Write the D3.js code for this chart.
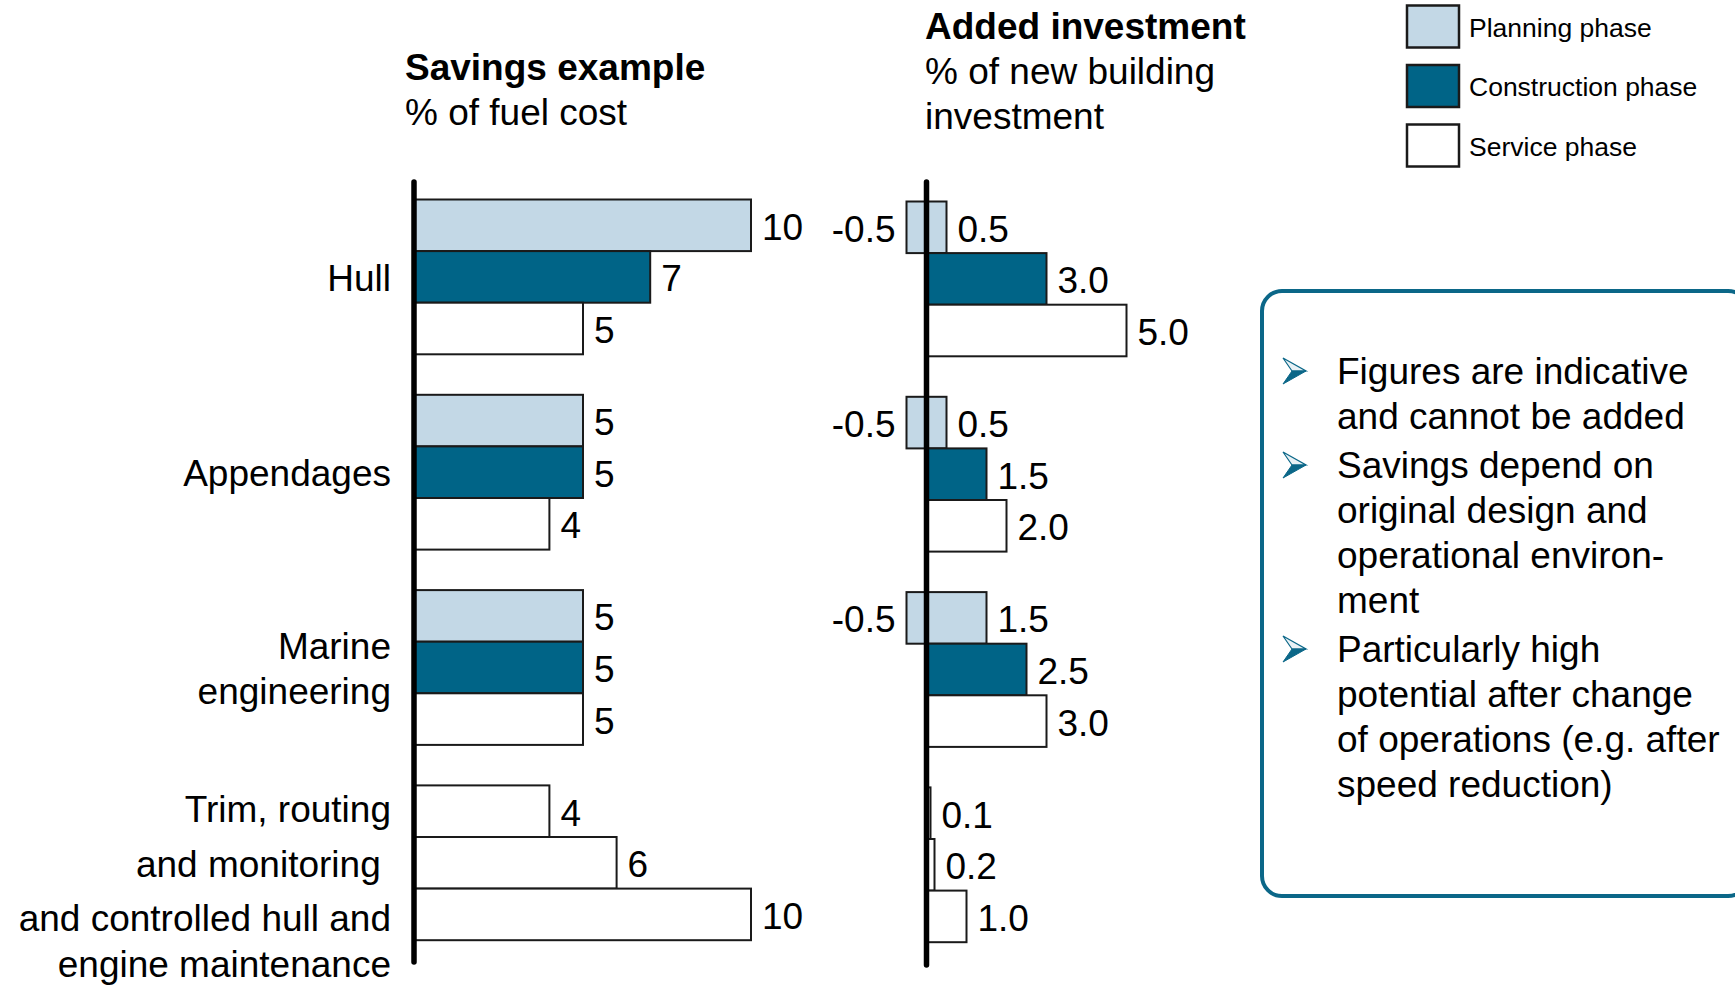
<!DOCTYPE html>
<html>
<head>
<meta charset="utf-8">
<script src="https://cdn.jsdelivr.net/npm/d3@7"></script>
<style>
  html, body { margin: 0; padding: 0; background: #fff; }
  svg { display: block; font-family: "Liberation Sans", Arial, sans-serif; }
  text { white-space: pre; }
</style>
</head>
<body>
<svg id="chart" width="1735" height="985"></svg>
<script>
// ---------------- data ----------------
const groups = ["Hull", "Appendages", "Marine engineering", "Trim"];
const groupLabels = [["Hull"], ["Appendages"], ["Marine", "engineering"],
  ["Trim, routing", "and monitoring ", "and controlled hull and", "engine maintenance"]];
const phases = ["Planning phase", "Construction phase", "Service phase"];

// Savings example, % of fuel cost (first three groups)
const savingsPlanning = [10, 5, 5];
const savingsConstruction = [7, 5, 5];
const savingsService = [5, 4, 5];
// Trim, routing and monitoring / controlled maintenance (service phase, 3 items)
const savingsTrim = [4, 6, 10];

// Added investment, % of new building investment
const investPlanningLow = [-0.5, -0.5, -0.5];
const investPlanningHigh = [0.5, 0.5, 1.5];
const investConstruction = [3.0, 1.5, 2.5];
const investService = [5.0, 2.0, 3.0];
const investTrim = [0.1, 0.2, 1.0];

const notes = [
  ["Figures are indicative", "and cannot be added"],
  ["Savings depend on", "original design and", "operational environ-", "ment"],
  ["Particularly high", "potential after change", "of operations (e.g. after", "speed reduction)"]
];

// ---------------- styles ----------------
const colors = ["#c3d8e6", "#006487", "#ffffff"];
const barStroke = "#1a1a1a";
const teal = "#0b6788";
const FS = 37;
const loc = d3.formatLocale({decimal: ".", thousands: ",", grouping: [3], currency: ["", ""], minus: "-"});

const svg = d3.select("#chart");

function rows(low, high, cons, serv, trim) {
  const r = [];
  for (let g = 0; g < 3; g++) {
    r.push({g: groups[g], i: 0, phase: 0, lo: low ? low[g] : 0, hi: high[g]});
    r.push({g: groups[g], i: 1, phase: 1, lo: 0, hi: cons[g]});
    r.push({g: groups[g], i: 2, phase: 2, lo: 0, hi: serv[g]});
  }
  trim.forEach((v, k) => r.push({g: groups[3], i: k, phase: 2, lo: 0, hi: v}));
  return r;
}
const leftRows = rows(null, savingsPlanning, savingsConstruction, savingsService, savingsTrim);
const rightRows = rows(investPlanningLow, investPlanningHigh, investConstruction, investService, investTrim);

const step = 195.3, groupBand = 154.8;
function makeY(top) {
  const outer = d3.scaleBand().domain(groups)
    .range([top, top + 3 * step + groupBand])
    .paddingInner((step - groupBand) / step).paddingOuter(0);
  const inner = d3.scaleBand().domain([0, 1, 2]).range([0, outer.bandwidth()]);
  return {outer, inner};
}

function panel(rowsData, x, yTop, axisX, axisY1, axisY2, fmt) {
  const {outer, inner} = makeY(yTop);
  const g = svg.append("g");
  g.selectAll("rect.bar").data(rowsData).join("rect")
    .attr("class", "bar")
    .attr("x", d => x(Math.min(d.lo, d.hi)))
    .attr("width", d => Math.abs(x(d.hi) - x(d.lo)))
    .attr("y", d => outer(d.g) + inner(d.i))
    .attr("height", inner.bandwidth())
    .attr("fill", d => colors[d.phase])
    .attr("stroke", barStroke)
    .attr("stroke-width", 2);
  g.selectAll("text.vr").data(rowsData).join("text")
    .attr("class", "vr")
    .attr("x", d => Math.max(x(d.hi), axisX + 3) + 11)
    .attr("y", d => outer(d.g) + inner(d.i) + inner.bandwidth() / 2 + 14.5)
    .attr("font-size", FS).attr("fill", "#000")
    .text(d => fmt(d.hi));
  g.selectAll("text.vl").data(rowsData.filter(d => d.lo < 0)).join("text")
    .attr("class", "vl")
    .attr("x", d => x(d.lo) - 11)
    .attr("y", d => outer(d.g) + inner(d.i) + inner.bandwidth() / 2 + 14.5)
    .attr("text-anchor", "end")
    .attr("font-size", FS).attr("fill", "#000")
    .text(d => fmt(d.lo));
  g.append("line").attr("x1", axisX).attr("x2", axisX)
    .attr("y1", axisY1).attr("y2", axisY2)
    .attr("stroke", "#000").attr("stroke-width", 5.5).attr("stroke-linecap", "round");
  return {outer, inner};
}

const xL = d3.scaleLinear().domain([0, 10]).range([415, 751]);
const L = panel(leftRows, xL, 199.5, 414, 182, 962, loc.format("d"));
const xR = d3.scaleLinear().domain([0, 5]).range([926.5, 1126.5]);
panel(rightRows, xR, 201.5, 926.5, 182, 965, loc.format(".1f"));

// category labels
const catX = 391;
groupLabels.forEach((lines, gi) => {
  const g = groups[gi];
  const center = L.outer(g) + L.outer.bandwidth() / 2;
  let ys;
  if (gi < 3) {
    const n = lines.length;
    ys = lines.map((_, k) => center + 14 + (k - (n - 1) / 2) * 45);
  } else {
    ys = [0, 1, 2].map(k => L.outer(g) + L.inner(k) + L.inner.bandwidth() / 2 + 11 + k * 3);
    ys.push(ys[2] + 46);
  }
  lines.forEach((t, k) => {
    svg.append("text").attr("x", catX).attr("y", ys[k])
      .attr("text-anchor", "end").attr("font-size", FS).attr("fill", "#000").text(t);
  });
});

// titles
svg.append("text").attr("x", 405).attr("y", 80).attr("font-size", FS)
  .attr("font-weight", "bold").text("Savings example");
svg.append("text").attr("x", 405).attr("y", 125).attr("font-size", FS).text("% of fuel cost");
svg.append("text").attr("x", 925).attr("y", 39).attr("font-size", FS)
  .attr("font-weight", "bold").text("Added investment");
svg.append("text").attr("x", 925).attr("y", 84).attr("font-size", FS).text("% of new building");
svg.append("text").attr("x", 925).attr("y", 129).attr("font-size", FS).text("investment");

// legend
const lg = svg.append("g");
phases.forEach((p, i) => {
  const y = 5.5 + i * 59.5;
  lg.append("rect").attr("x", 1407).attr("y", y).attr("width", 52).attr("height", 42)
    .attr("fill", colors[i]).attr("stroke", barStroke).attr("stroke-width", 2.5);
  lg.append("text").attr("x", 1469).attr("y", y + 31).attr("font-size", 26.5)
    .attr("fill", "#000").text(p);
});

// note box
svg.append("rect").attr("x", 1262).attr("y", 291).attr("width", 486).attr("height", 605)
  .attr("rx", 20).attr("ry", 20).attr("fill", "none")
  .attr("stroke", teal).attr("stroke-width", 4);

let by = 384;
notes.forEach((para) => {
  const cy = by - 13;
  const ax = 1283;
  svg.append("path")
    .attr("d", `M${ax},${cy - 13} L${ax + 23},${cy} L${ax + 9},${cy} Z`)
    .attr("fill", "#e8f1f5").attr("stroke", teal).attr("stroke-width", 1.2);
  svg.append("path")
    .attr("d", `M${ax + 9},${cy} L${ax + 23},${cy} L${ax},${cy + 13} Z`)
    .attr("fill", teal).attr("stroke", teal).attr("stroke-width", 1);
  para.forEach((t, k) => {
    svg.append("text").attr("x", 1337).attr("y", by + k * 45)
      .attr("font-size", FS).attr("fill", "#000").text(t);
  });
  by += para.length * 45 + 4;
});
</script>
</body>
</html>
